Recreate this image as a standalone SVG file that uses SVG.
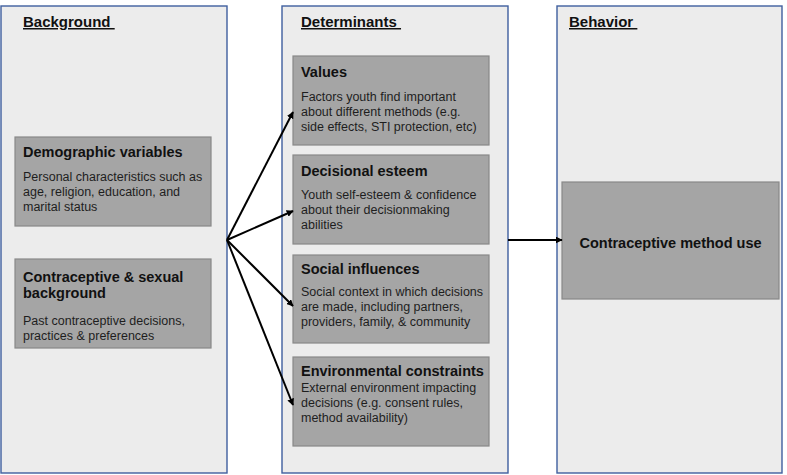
<svg xmlns="http://www.w3.org/2000/svg" width="787" height="475" viewBox="0 0 787 475">
<defs>
<marker id="ah" viewBox="0 0 10 10" refX="9" refY="5" markerWidth="7" markerHeight="7" markerUnits="userSpaceOnUse" orient="auto">
<path d="M0,0 L10,5 L0,10 z" fill="#000"/>
</marker>
<style>
.panel{fill:#ececec;stroke:#3f5f9f;stroke-width:1.4}
.box{fill:#a5a5a5;stroke:#888;stroke-width:1.2}
.hd{font-family:"Liberation Sans",Arial,sans-serif;font-weight:bold;font-size:15px;fill:#111;text-decoration:underline}
.tt{font-family:"Liberation Sans",Arial,sans-serif;font-weight:bold;font-size:14.5px;fill:#111}
.bd{font-family:"Liberation Sans",Arial,sans-serif;font-size:12.5px;fill:#1e1e1e}
.conn{stroke:#000;stroke-width:2;fill:none}
</style>
</defs>
<rect width="787" height="475" fill="#fff"/>
<g id="panel-background">
<rect class="panel" x="1" y="6" width="226" height="467"/>
<text class="hd" x="23" y="27" xml:space="preserve">Background </text>
</g>
<g id="panel-determinants">
<rect class="panel" x="282" y="6" width="226" height="467"/>
<text class="hd" x="301" y="27" xml:space="preserve">Determinants </text>
</g>
<g id="panel-behavior">
<rect class="panel" x="557" y="6" width="225" height="467"/>
<text class="hd" x="569" y="27" xml:space="preserve">Behavior </text>
</g>
<g id="demographic">
<rect class="box" x="15" y="137" width="196" height="89"/>
<text class="tt" x="23" y="157">Demographic variables</text>
<text class="bd" x="23" y="181">Personal characteristics such as</text>
<text class="bd" x="23" y="196">age, religion, education, and</text>
<text class="bd" x="23" y="211">marital status</text>
</g>
<g id="sexual-background">
<rect class="box" x="15" y="259" width="196" height="89"/>
<text class="tt" x="23" y="282">Contraceptive &amp; sexual</text>
<text class="tt" x="23" y="298">background</text>
<text class="bd" x="23" y="325">Past contraceptive decisions,</text>
<text class="bd" x="23" y="340">practices &amp; preferences</text>
</g>
<g id="values">
<rect class="box" x="293" y="56" width="196" height="89"/>
<text class="tt" x="301" y="77">Values</text>
<text class="bd" x="301" y="101">Factors youth find important</text>
<text class="bd" x="301" y="116">about different methods (e.g.</text>
<text class="bd" x="301" y="131">side effects, STI protection, etc)</text>
</g>
<g id="decisional-esteem">
<rect class="box" x="293" y="155" width="196" height="89"/>
<text class="tt" x="301" y="176">Decisional esteem</text>
<text class="bd" x="301" y="199">Youth self-esteem &amp; confidence</text>
<text class="bd" x="301" y="214">about their decisionmaking</text>
<text class="bd" x="301" y="229">abilities</text>
</g>
<g id="social-influences">
<rect class="box" x="293" y="255" width="196" height="88"/>
<text class="tt" x="301" y="274">Social influences</text>
<text class="bd" x="301" y="296">Social context in which decisions</text>
<text class="bd" x="301" y="311">are made, including partners,</text>
<text class="bd" x="301" y="326">providers, family, &amp; community</text>
</g>
<g id="environmental-constraints">
<rect class="box" x="293" y="357" width="196" height="89"/>
<text class="tt" x="301" y="376">Environmental constraints</text>
<text class="bd" x="301" y="392">External environment impacting</text>
<text class="bd" x="301" y="407">decisions (e.g. consent rules,</text>
<text class="bd" x="301" y="422">method availability)</text>
</g>
<g id="method-use">
<rect class="box" x="562" y="182" width="217" height="117"/>
<text class="tt" x="670.5" y="248" text-anchor="middle">Contraceptive method use</text>
</g>
<g id="connectors">
<line class="conn" x1="227" y1="240" x2="293" y2="112" marker-end="url(#ah)"/>
<line class="conn" x1="227" y1="240" x2="293" y2="211" marker-end="url(#ah)"/>
<line class="conn" x1="227" y1="240" x2="293" y2="306" marker-end="url(#ah)"/>
<line class="conn" x1="227" y1="240" x2="293" y2="405" marker-end="url(#ah)"/>
<line class="conn" x1="508" y1="240" x2="562" y2="240" marker-end="url(#ah)"/>
</g>
</svg>
